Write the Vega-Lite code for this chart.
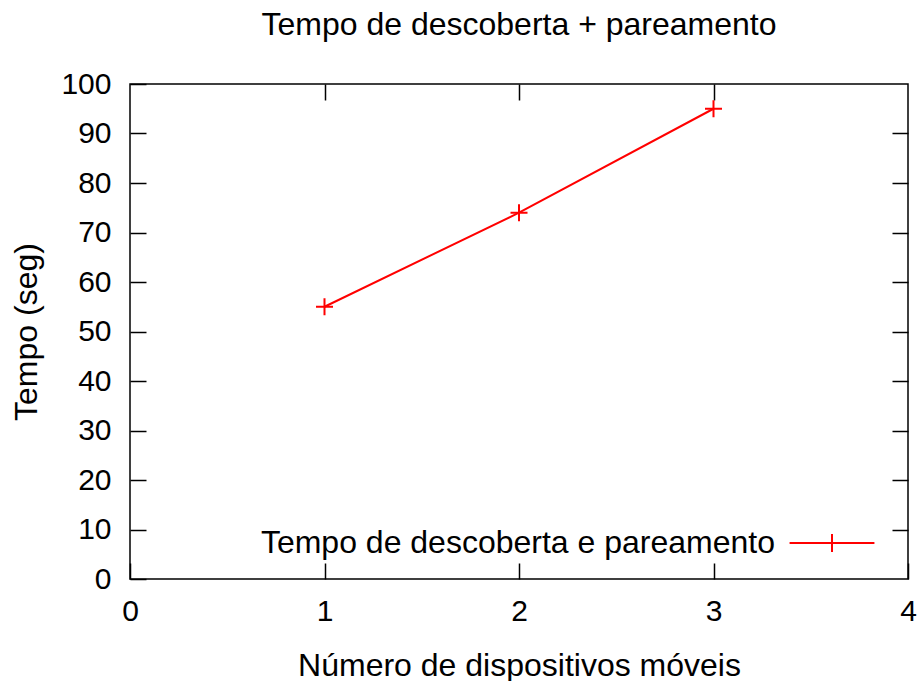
{
  "$schema": "https://vega.github.io/schema/vega-lite/v6.json",
  "width": 778,
  "height": 495,
  "autosize": {"type": "none"},
  "padding": {"left": 130, "top": 84, "right": 9, "bottom": 102},
  "title": {
    "text": "Tempo de descoberta + pareamento",
    "fontSize": 32,
    "font": "Liberation Sans",
    "fontWeight": "normal",
    "color": "black",
    "anchor": "middle",
    "baseline": "alphabetic",
    "offset": 2
  },
  "data": {
    "values": [
      {"n": 1, "t": 55, "series": "Tempo de descoberta e pareamento"},
      {"n": 2, "t": 74, "series": "Tempo de descoberta e pareamento"},
      {"n": 3, "t": 95, "series": "Tempo de descoberta e pareamento"}
    ]
  },
  "config": {
    "font": "Liberation Sans",
    "view": {"stroke": "black", "strokeWidth": 1.5},
    "axis": {
      "domain": false,
      "grid": false,
      "tickSize": -16,
      "tickColor": "black",
      "tickWidth": 1.5,
      "labelFont": "Liberation Sans",
      "labelFontSize": 30,
      "labelColor": "black",
      "titleFont": "Liberation Sans",
      "titleFontSize": 32,
      "titleFontWeight": "normal",
      "titleColor": "black"
    }
  },
  "layer": [
    {
      "mark": {"type": "line", "color": "red", "strokeWidth": 2},
      "encoding": {
        "x": {
          "field": "n", "type": "quantitative",
          "scale": {"domain": [0, 4], "nice": false, "zero": false},
          "axis": {"orient": "bottom", "values": [0, 1, 2, 3, 4], "title": "Número de dispositivos móveis", "labelPadding": 33, "titlePadding": 24, "labelFlush": false}
        },
        "y": {
          "field": "t", "type": "quantitative",
          "scale": {"domain": [0, 100], "nice": false},
          "axis": {"orient": "left", "values": [0, 10, 20, 30, 40, 50, 60, 70, 80, 90, 100], "title": "Tempo (seg)", "labelPadding": 35, "titlePadding": 17, "labelFlush": false}
        },
        "color": {
          "field": "series", "type": "nominal",
          "scale": {"range": ["red"]},
          "legend": {
            "orient": "none",
            "legendX": 686,
            "legendY": 443,
            "title": null,
            "padding": 0,
            "labelFontSize": 32,
            "labelFont": "Liberation Sans",
            "labelColor": "black",
            "labelAlign": "right",
            "labelOffset": -73,
            "labelLimit": 0,
            "symbolType": "M-3,0H3M0,-0.64V0.64",
            "symbolSize": 800,
            "symbolStrokeWidth": 2,
            "symbolStrokeColor": "red"
          }
        }
      }
    },
    {
      "mark": {"type": "point", "shape": "M-1,0H1M0,-1V1", "size": 289, "filled": false, "strokeWidth": 2, "opacity": 1, "color": "red"},
      "encoding": {
        "x": {
          "field": "n", "type": "quantitative",
          "scale": {"domain": [0, 4], "nice": false, "zero": false},
          "axis": {"orient": "top", "values": [1, 2, 3], "labels": false, "title": null}
        },
        "y": {
          "field": "t", "type": "quantitative",
          "scale": {"domain": [0, 100], "nice": false},
          "axis": {"orient": "right", "values": [10, 20, 30, 40, 50, 60, 70, 80, 90], "labels": false, "title": null}
        }
      }
    }
  ],
  "resolve": {"axis": {"x": "independent", "y": "independent"}}
}
